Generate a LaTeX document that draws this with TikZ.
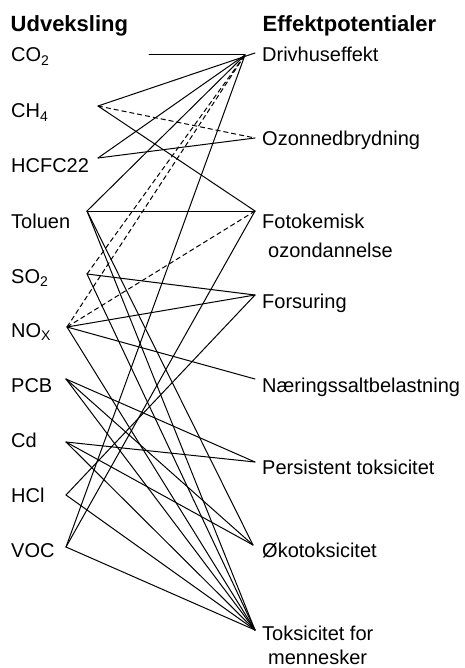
\documentclass[tikz,border=0pt]{standalone}
\usepackage{fontspec}
\setmainfont{Liberation Sans}
\begin{document}
\begin{tikzpicture}[x=1pt,y=-1pt,
  lbl/.style={anchor=base west, inner sep=0pt, font=\fontsize{20}{24}\selectfont},
  hdr/.style={anchor=base west, inner sep=0pt, font=\fontsize{22}{26}\selectfont\bfseries},
  link/.style={line width=1pt, line join=round, line cap=round},
  indirect/.style={line width=1pt, dash pattern=on 5pt off 3pt}]
\useasboundingbox (0,0) rectangle (464,668);
\fill[white] (0,0) rectangle (464,668);

% column headings
\node[hdr] (hleft)  at (10.5,32) {Udveksling};
\node[hdr] (hright) at (262.5,32) {Effektpotentialer};

% emissions (left column)
\node[lbl] (tco2)  at (11,62)  {CO\textsubscript{2}};
\node[lbl] (tch4)  at (11,118) {CH\textsubscript{4}};
\node[lbl] (thcfc) at (11,173) {HCFC22};
\node[lbl] (ttol)  at (11,228) {Toluen};
\node[lbl] (tso2)  at (11,283) {SO\textsubscript{2}};
\node[lbl] (tnox)  at (11,337) {NO\textsubscript{X}};
\node[lbl] (tpcb)  at (11,392) {PCB};
\node[lbl] (tcd)   at (11,447) {Cd};
\node[lbl] (thcl)  at (11,502) {HCl};
\node[lbl] (tvoc)  at (11,557) {VOC};

% impact potentials (right column)
\node[lbl] (tdr)    at (262,62)  {Drivhuseffekt};
\node[lbl] (tozon)  at (262,146) {Ozonnedbrydning};
\node[lbl] (tfoto)  at (262,228) {Fotokemisk};
\node[lbl] (tfoto2) at (268,257) {ozondannelse};
\node[lbl] (tfors)  at (262,308) {Forsuring};
\node[lbl] (tnaer)  at (262,392) {Næringssaltbelastning};
\node[lbl] (tpers)  at (262,474) {Persistent toksicitet};
\node[lbl] (toko)   at (262,557) {Økotoksicitet};
\node[lbl] (ttox)   at (262,640) {Toksicitet for};
\node[lbl] (ttox2)  at (268,664) {mennesker};

% connection points, emissions
\coordinate (co2)  at (149,55);
\coordinate (ch4)  at (98,106);
\coordinate (hcfc) at (98,158);
\coordinate (tol)  at (87,211);
\coordinate (so2)  at (87,274);
\coordinate (nox)  at (67,327);
\coordinate (pcb)  at (66,379);
\coordinate (cd)   at (66,442);
\coordinate (hcl)  at (66,495);
\coordinate (voc)  at (66,547);

% connection points, impacts
\coordinate (dr)   at (245,55);
\coordinate (drb)  at (255,53);
\coordinate (ozon) at (255,138);
\coordinate (foto) at (255,211);
\coordinate (fors) at (255,295);
\coordinate (naer) at (255,379);
\coordinate (pers) at (255,462);
\coordinate (oko)  at (253,545);
\coordinate (tox)  at (255,630);

% direct contributions
\draw[link] (co2) -- (dr);
\draw[link] (ch4) -- (drb);
\draw[link] (ch4) -- (foto);
\draw[link] (hcfc) -- (dr);
\draw[link] (hcfc) -- (ozon);
\draw[link] (tol) -- (dr);
\draw[link] (tol) -- (foto);
\draw[link] (tol) -- (oko);
\draw[link] (tol) -- (tox);
\draw[link] (so2) -- (fors);
\draw[link] (so2) -- (tox);
\draw[link] (nox) -- (fors);
\draw[link] (nox) -- (naer);
\draw[link] (nox) -- (tox);
\draw[link] (pcb) -- (pers);
\draw[link] (pcb) -- (oko);
\draw[link] (pcb) -- (tox);
\draw[link] (cd) -- (pers);
\draw[link] (cd) -- (oko);
\draw[link] (cd) -- (tox);
\draw[link] (hcl) -- (fors);
\draw[link] (hcl) -- (tox);
\draw[link] (voc) -- (dr);
\draw[link] (voc) -- (foto);
\draw[link] (voc) -- (tox);

% indirect contributions
\draw[indirect] (ch4) -- (ozon);
\draw[indirect] (so2) -- (dr);
\draw[indirect] (nox) -- (dr);
\draw[indirect] (nox) -- (foto);
\end{tikzpicture}
\end{document}
